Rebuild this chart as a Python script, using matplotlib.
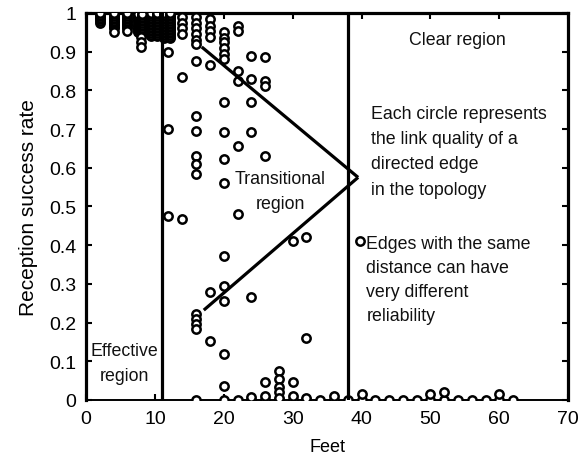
import matplotlib
matplotlib.use("Agg")
import matplotlib.pyplot as plt
import numpy as np

plt.rcParams['font.family'] = ['Liberation Sans', 'DejaVu Sans']

# Dense columns of near-perfect links (x in feet, top/bottom of the stacked band)
dense_x = [2, 4, 6, 7.6, 8.2, 9.5, 10.3, 11.3, 12.2]
dense_top = [1.0, 1.0, 1.0, 1.0, 1.0, 1.0, 1.0, 1.0, 1.0]
dense_bottom = [0.975, 0.96, 0.96, 0.95, 0.95, 0.94, 0.94, 0.935, 0.935]

# Individual links
point_x = [4, 6, 8, 8, 8,
           11.9, 11.9, 11.9, 13.9,
           14, 14, 14, 14, 14,
           16, 16, 16, 16, 16, 16, 16, 16, 16, 16, 16, 16, 16, 16, 16, 16,
           18, 18, 18, 18, 18, 18, 18,
           20, 20, 20, 20, 20, 20, 20, 20, 20, 20, 20, 20, 20, 20, 20,
           22, 22, 22, 22, 22, 22,
           24, 24, 24, 24, 24,
           26, 26, 26, 26, 26,
           28, 28, 28, 28, 30, 32, 30, 32, 39.8]
point_y = [0.95, 0.953, 0.938, 0.925, 0.912,
           0.90, 0.70, 0.475, 0.468,
           0.99, 0.975, 0.96, 0.945, 0.835,
           0.99, 0.975, 0.96, 0.945, 0.93, 0.92, 0.876, 0.734, 0.695, 0.63, 0.61, 0.585,
           0.222, 0.209, 0.196, 0.183,
           0.985, 0.966, 0.953, 0.938, 0.866, 0.279, 0.153,
           0.95, 0.935, 0.925, 0.91, 0.895, 0.88, 0.77, 0.692, 0.623, 0.56, 0.372, 0.295,
           0.255, 0.119, 0.036,
           0.966, 0.953, 0.851, 0.824, 0.655, 0.48,
           0.889, 0.829, 0.77, 0.692, 0.267,
           0.886, 0.824, 0.81, 0.63, 0.047,
           0.075, 0.054, 0.034, 0.021, 0.047, 0.16, 0.41, 0.42, 0.41]

# Links that almost never deliver packets
zero_x = [16, 20, 22, 24, 26, 28, 30, 32, 34, 36, 38, 40, 42, 44, 46, 48,
          50, 52, 54, 56, 58, 60, 62,
          24, 26, 28, 30, 32, 36, 40, 50, 52, 60]
zero_y = [0] * 23 + [0.008, 0.01, 0.006, 0.01, 0.006, 0.01, 0.015, 0.015, 0.02, 0.015]

# Region borders and the pointer lines toward the note
border_x = [11, 38]
pointer_tail_x = [16.8, 17.1]
pointer_tail_y = [0.912, 0.232]
pointer_tip = (39.5, 0.575)

fig = plt.figure(figsize=(5.81, 4.64), dpi=100)
ax = fig.add_axes([0.148, 0.136, 0.83, 0.834])

mk = dict(marker='o', ms=6.0, mfc='white', mec='black', mew=1.8, ls='none', zorder=3)

for x, top, bot in zip(dense_x, dense_top, dense_bottom):
    ys = np.arange(bot, top + 1e-9, 0.004)
    ax.plot([x] * len(ys), ys, **mk)
ax.plot(point_x, point_y, **mk)
ax.plot(zero_x, zero_y, **mk)

for bx in border_x:
    ax.plot([bx, bx], [0, 1], color='black', lw=2.3, zorder=4)
for tx, ty in zip(pointer_tail_x, pointer_tail_y):
    ax.plot([tx, pointer_tip[0]], [ty, pointer_tip[1]], color='black', lw=2.3,
            solid_capstyle='butt', zorder=4)

ax.set_xlim(0, 70)
ax.set_ylim(0, 1)
ax.set_xticks(np.arange(0, 71, 10))
ax.set_yticks(np.arange(0, 1.01, 0.1))
ax.set_yticklabels(['0', '0.1', '0.2', '0.3', '0.4', '0.5', '0.6', '0.7', '0.8', '0.9', '1'])
ax.tick_params(direction='in', length=4, width=1.5, labelsize=14, top=True, right=True,
               pad=7)
for side in ['left', 'top', 'right']:
    ax.spines[side].set_linewidth(2.3)
ax.spines['bottom'].set_linewidth(1.4)

ax.set_xlabel('Feet', fontsize=13, labelpad=8)
ax.set_ylabel('Reception success rate', fontsize=15, labelpad=8)

tk = dict(fontsize=12.8, color='#111111', va='top')
ax.text(53.9, 0.952, 'Clear region', ha='center', **tk)
ax.text(41.4, 0.762, 'Each circle represents\nthe link quality of a\ndirected edge\nin the topology',
        ha='left', linespacing=1.63, **tk)
ax.text(28.2, 0.595, 'Transitional\nregion', ha='center', linespacing=1.63, **tk)
ax.text(40.7, 0.425, 'Edges with the same\ndistance can have\nvery different\nreliability',
        ha='left', linespacing=1.52, **tk)
ax.text(5.6, 0.15, 'Effective\nregion', ha='center', linespacing=1.6, **tk)

fig.savefig('out.png', dpi=100)
